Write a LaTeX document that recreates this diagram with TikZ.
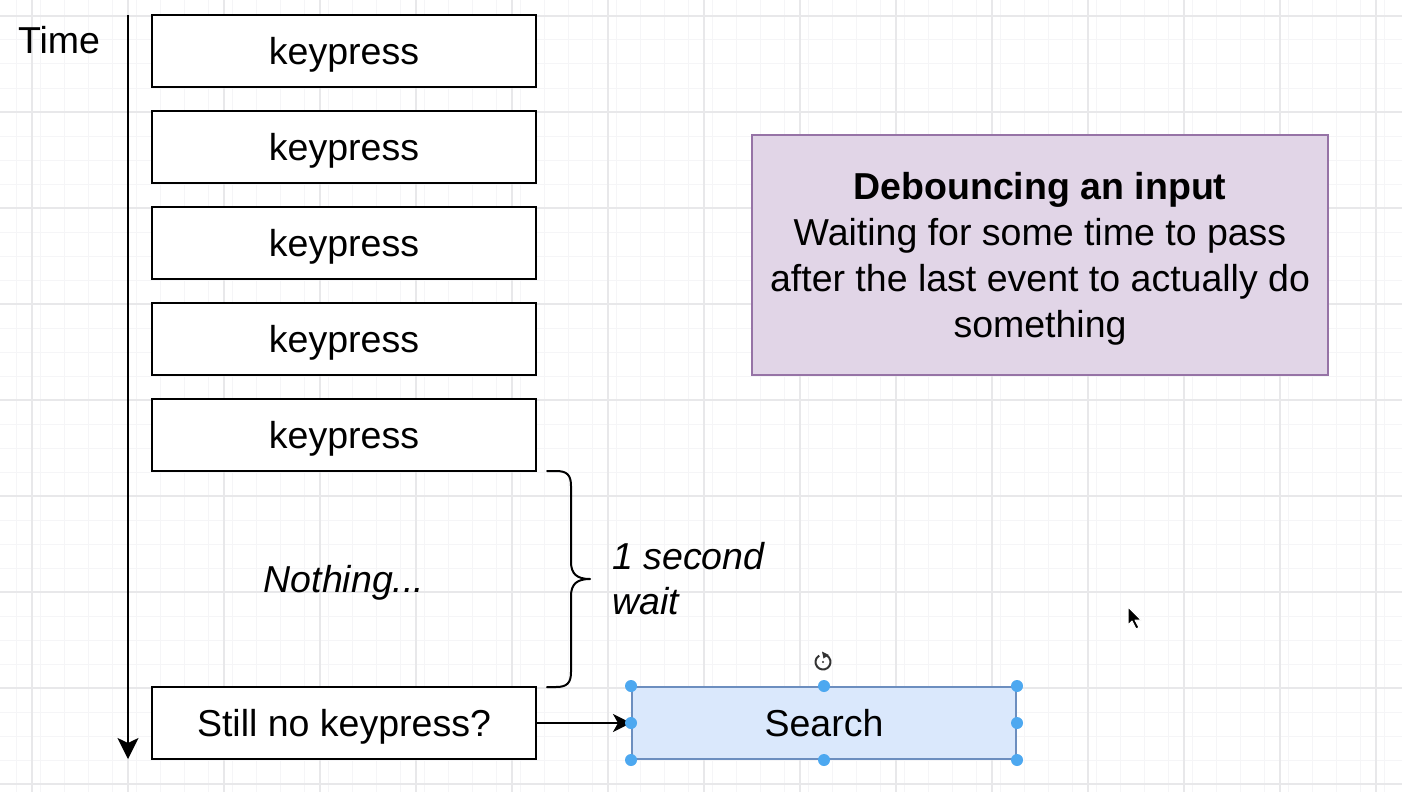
\documentclass[tikz,border=0pt]{standalone}
\usepackage{fontspec}
\setmainfont{Liberation Sans}
\usetikzlibrary{arrows.meta}
\definecolor{purplefill}{HTML}{E1D5E7}
\definecolor{purpleline}{HTML}{9673A6}
\definecolor{bluefill}{HTML}{DAE8FC}
\definecolor{blueline}{HTML}{6C8EBF}
\definecolor{handleblue}{HTML}{4DA8F0}
\definecolor{gridminor}{HTML}{F5F5F7}
\definecolor{gridmajor}{HTML}{E8E8EA}
\begin{document}
\begin{tikzpicture}[x=1pt,y=-1pt,
  txt/.style={font=\fontsize{37.5}{46}\selectfont},
  linebox/.style={text height=35.9pt,text depth=7.95pt},
  box/.style={txt,linebox,draw=black,line width=2.2pt,fill=white,minimum width=384pt,minimum height=72pt,inner sep=0pt},
  plain/.style={txt,inner sep=0pt},
  minorline/.style={draw=gridminor,line width=1pt},
  majorline/.style={draw=gridmajor,line width=1.2pt},
  handle/.style={fill=handleblue},
  conn/.style={line width=2.2pt,-{Stealth[length=21pt,width=21pt,inset=5pt]}}]
\useasboundingbox (0,0) rectangle (1402,792);
\fill[white] (0,0) rectangle (1402,792);
% grid
\foreach \x in {16,40,...,1400} \draw[minorline] (\x,0) -- (\x,792);
\foreach \y in {16,40,...,790} \draw[minorline] (0,\y) -- (1402,\y);
\foreach \x in {32,128,...,1400} \draw[majorline] (\x,0) -- (\x,792);
\foreach \y in {16,112,...,790} \draw[majorline] (0,\y) -- (1402,\y);

% time axis
\node[plain] (timelbl) at (59,40) {Time};
\coordinate (axtop) at (128,15);
\coordinate (axbot) at (128,759);
\draw[conn] (axtop) -- (axbot);

% keypress boxes
\node[box] (k1) at (344,51) {keypress};
\node[box] (k2) at (344,147) {keypress};
\node[box] (k3) at (344,243) {keypress};
\node[box] (k4) at (344,339) {keypress};
\node[box] (k5) at (344,435) {keypress};
\node[plain,linebox,font=\fontsize{37.5}{46}\selectfont\itshape] (nothing) at (344,579) {Nothing...};
\node[box] (still) at (344,723) {Still no keypress?};

% brace
\draw[line width=2pt,line cap=round,line join=round]
  (547,471) -- (556,471) .. controls (567,471) and (571,475) .. (571,486)
  -- (571,562) .. controls (571,574) and (577,579) .. (590,579)
  .. controls (577,579) and (571,584) .. (571,596)
  -- (571,672) .. controls (571,683) and (567,687) .. (556,687) -- (547,687);
\node[plain,anchor=west,align=left,font=\fontsize{37.5}{45}\selectfont\itshape] (wait) at (612,579) {1 second\\wait};

% note
\node[draw=purpleline,line width=2pt,fill=purplefill,minimum width=576pt,minimum height=240pt,inner sep=0pt] (note) at (1040,255) {};
\node[txt,align=center,inner sep=0pt] (notetext) at ([yshift=-4pt]note.center)
  {\textbf{Debouncing an input}\\Waiting for some time to pass\\after the last event to actually do\\something};

% search
\node[txt,linebox,draw=blueline,line width=2pt,fill=bluefill,minimum width=384pt,minimum height=72pt,inner sep=0pt] (search) at (824,723) {Search};
\draw[conn,-{Stealth[length=18pt,width=18pt,inset=5pt]}] (still) -- (search);

% selection handles
\foreach \p in {north west,north,north east,west,east,south west,south,south east}
  \fill[handle] (search.\p) circle (6pt);
% rotate icon
\begin{scope}[shift={(823,662)},x=1pt,y=1pt]
  \draw[line width=2pt,draw=black!80] (60:7.5) arc[start angle=60,end angle=-240,radius=7.5pt];
  \fill[black!80] (-1,10.5) -- (6,7) -- (0.5,3.5) -- cycle;
  \fill[black!80] (0,0) circle (1.2pt);
\end{scope}
% mouse cursor
\begin{scope}[shift={(1128,607)},x=1pt,y=-1pt]
  \draw[white,fill=black,line width=1pt,line join=round] (0,0) -- (0,18) -- (4,14) -- (8,22) -- (11,20.5) -- (7,13) -- (13,13) -- cycle;
\end{scope}
\end{tikzpicture}
\end{document}
